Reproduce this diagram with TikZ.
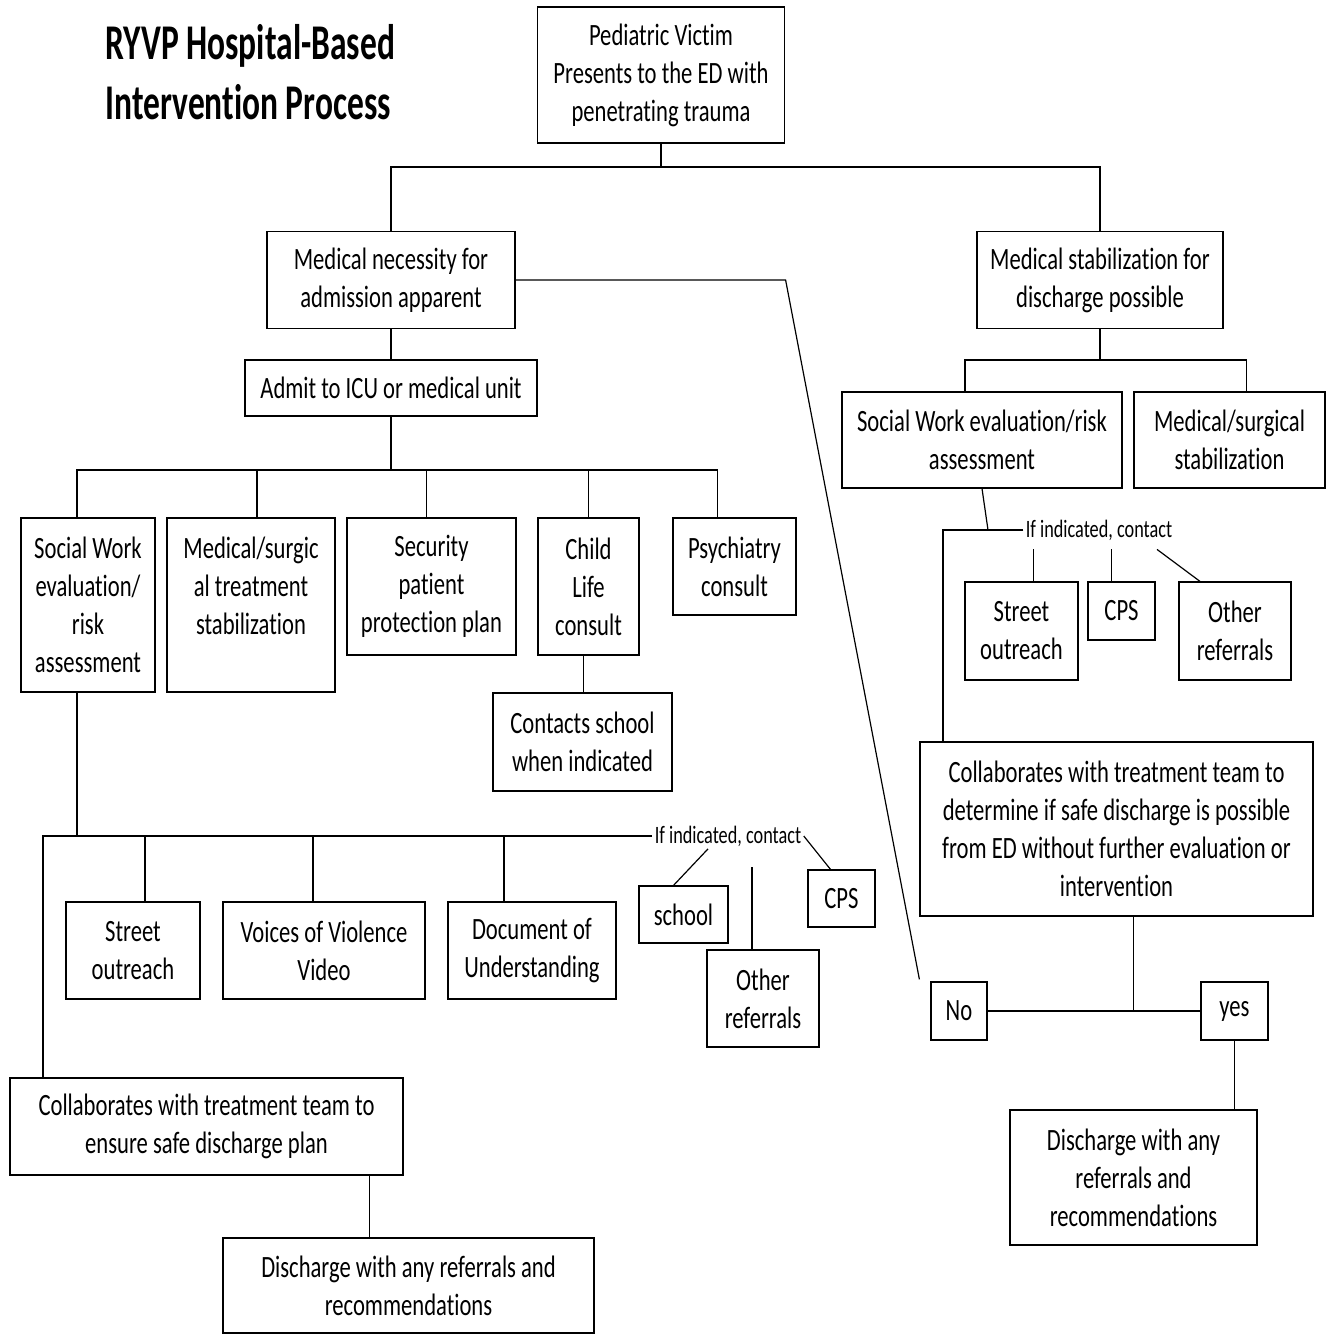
\documentclass[tikz,border=0pt]{standalone}
\usepackage{fontspec}
\setmainfont{Carlito}[FakeStretch=0.73, Ligatures=CommonOff]
\newfontfamily\titlefont{Carlito}[FakeStretch=0.67, Ligatures=CommonOff]
\usepackage{tikz}
\tikzstyle{Box}=[rectangle, draw=black, line width=1.2pt, align=center, inner sep=0pt, font=\fontsize{31}{38}\selectfont]
\tikzstyle{Note}=[inner sep=2pt, font=\fontsize{25}{30}\selectfont]

\begin{document}
\begin{tikzpicture}[x=1pt, y=-1pt, line width=1.2pt]
    \useasboundingbox (0,0) rectangle (1335,1335);
    \path
    (105,24) node[anchor=north west, align=left, inner sep=0pt, font=\titlefont\bfseries\fontsize{50}{60}\selectfont] (title) {RYVP Hospital-Based\\Intervention Process}
    (661,75) node[Box, minimum width=247, minimum height=136] (ped) {Pediatric Victim\\Presents to the ED with\\penetrating trauma}
    (391,280) node[Box, minimum width=248, minimum height=97] (nec) {Medical necessity for\\admission apparent}
    (1100,280) node[Box, minimum width=246, minimum height=97] (stab) {Medical stabilization for\\discharge possible}
    (391,388) node[Box, minimum width=292, minimum height=56] (admit) {Admit to ICU or medical unit};

    \path
    (88,605) node[Box, minimum width=134, minimum height=174] (swl) {Social Work\\evaluation/\\risk\\assessment}
    (251,605) node[Box, minimum width=168, minimum height=174] (msl) {Medical/surgic\\al treatment\\stabilization\\\mbox{}}
    (431.5,586.5) node[Box, minimum width=169, minimum height=137] (sec) {Security\\patient\\protection plan}
    (588.5,586.5) node[Box, minimum width=101, minimum height=137] (child) {Child\\Life\\consult}
    (734.5,566.5) node[Box, minimum width=123, minimum height=97] (psy) {Psychiatry\\consult}
    (582.5,742) node[Box, minimum width=179, minimum height=98] (cschool) {Contacts school\\when indicated}
    (133,950.5) node[Box, minimum width=134, minimum height=97] (so) {Street\\outreach}
    (324,950.5) node[Box, minimum width=202, minimum height=97] (vov) {Voices of Violence\\Video}
    (532,950.5) node[Box, minimum width=168, minimum height=97] (dou) {Document of\\Understanding}
    (728,836) node[Note] (ifl) {If indicated, contact}
    (683.5,914.5) node[Box, minimum width=89, minimum height=57] (school) {school}
    (763,998.5) node[Box, minimum width=112, minimum height=97] (oth) {Other\\referrals}
    (841.5,898.5) node[Box, minimum width=67, minimum height=57] (cps) {CPS}
    (206.5,1126.5) node[Box, minimum width=393, minimum height=97] (colL) {Collaborates with treatment team to\\ensure safe discharge plan}
    (408.5,1285.5) node[Box, minimum width=371, minimum height=95] (dchL) {Discharge with any referrals and\\recommendations};

    \path
    (982,440) node[Box, minimum width=280, minimum height=96] (swr) {Social Work evaluation/risk\\assessment}
    (1229.5,440) node[Box, minimum width=191, minimum height=96] (msr) {Medical/surgical\\stabilization}
    (1099,530) node[Note] (ifr) {If indicated, contact}
    (1021.5,631) node[Box, minimum width=113, minimum height=98] (sor) {Street\\outreach}
    (1121.5,611) node[Box, minimum width=67, minimum height=58] (cpsr) {CPS}
    (1235,631) node[Box, minimum width=112, minimum height=98] (orr) {Other\\referrals}
    (1116.5,829) node[Box, minimum width=393, minimum height=174] (colR) {Collaborates with treatment team to\\determine if safe discharge is possible\\from ED without further evaluation or\\intervention}
    (959,1011) node[Box, minimum width=56, minimum height=58] (no) {No}
    (1234.5,1011) node[Box, minimum width=67, minimum height=58] (yes) {yes}
    (1133.5,1177.5) node[Box, minimum width=247, minimum height=135] (dchR) {Discharge with any\\referrals and\\recommendations};

    \path (661,167) coordinate (j1)
    (391,470) coordinate (j2)
    (43,836) coordinate (j3)
    (1100,360) coordinate (j4)
    (943,530) coordinate (j5)
    (988,530) coordinate (j6);

    \draw (ped) -- (j1);
    \draw (nec.north) |- (j1) -| (stab.north);
    \draw (nec) -- (admit);
    \draw (admit) -- (j2);
    \draw ([xshift=-11]swl.north) |- (j2) -| ([xshift=-17]psy.north);
    \draw ([xshift=6]msl.north) -- ([xshift=6]msl.north |- j2);
    \draw ([xshift=-5]sec.north) -- ([xshift=-5]sec.north |- j2);
    \draw (child.north) -- (child.north |- j2);
    \draw ([xshift=-5]child.south) -- ([xshift=-5]child.south |- cschool.north);

    \draw ([xshift=-11]swl.south) -- ([xshift=-11]swl.south |- j3);
    \draw (ifl.west) -- (j3) -- (j3 |- colL.north);
    \draw ([xshift=12]so.north) -- ([xshift=12]so.north |- j3);
    \draw ([xshift=-11]vov.north) -- ([xshift=-11]vov.north |- j3);
    \draw ([xshift=-28]dou.north) -- ([xshift=-28]dou.north |- j3);
    \draw ([xshift=-20]ifl.south) -- ([xshift=-10]school.north);
    \draw ([xshift=-11]oth.north) -- ++(0,-82);
    \draw (ifl.east) -- ([xshift=-11]cps.north);
    \draw ([xshift=163]colL.south) -- ([xshift=163]colL.south |- dchL.north);

    \draw (nec.east) -- ++(270,0) -- ([xshift=-11,yshift=2]no.north west);

    \draw (stab) -- (j4);
    \draw ([xshift=-17]swr.north) |- (j4) -| ([xshift=17]msr.north);
    \draw (swr.south) -- (j6);
    \draw (ifr.west) -- (j5) -- (j5 |- colR.north);
    \draw ([xshift=12]sor.north) -- ++(0,-32);
    \draw ([xshift=-10]cpsr.north) -- ++(0,-32);
    \draw ([xshift=-35]orr.north) -- ++(-43,-32);
    \draw (no) -- (yes);
    \draw ([xshift=17]colR.south) -- ([xshift=17]colR.south |- no);
    \draw (yes) -- (yes |- dchR.north);
\end{tikzpicture}
\end{document}
